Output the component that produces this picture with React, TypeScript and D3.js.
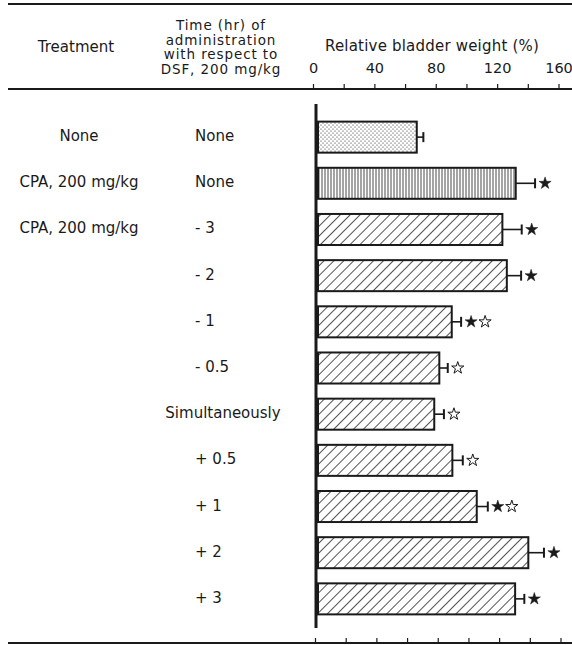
import React from "react";
import * as d3 from "d3";

const treatments = ["None", "CPA, 200 mg/kg", "CPA, 200 mg/kg", "", "", "", "", "", "", "", ""];
const times = ["None", "None", "- 3", "- 2", "- 1", "- 0.5", "Simultaneously", "+ 0.5", "+ 1", "+ 2", "+ 3"];
const means = [67.3, 131.8, 123.1, 126, 90.1, 82, 78.7, 90.5, 106.4, 140, 131.4];
const errors = [4.3, 12.6, 12.6, 9.3, 6.1, 5.5, 6.3, 6.8, 7.2, 10.2, 6];
const fills = ["dots", "vlines", "hatch", "hatch", "hatch", "hatch", "hatch", "hatch", "hatch", "hatch", "hatch"];
const marks = ["", "★", "★", "★", "★☆", "☆", "☆", "☆", "★☆", "★", "★"];
const tickValues = [0, 20, 40, 60, 80, 100, 120, 140, 160];
const tickLabels = [0, 40, 80, 120, 160];
const timeHeader = ["Time (hr) of", "administration", "with respect to", "DSF, 200 mg/kg"];

const FONT = "'DejaVu Sans', 'Liberation Sans', Arial, sans-serif";
const INK = "#1a1a1a";

export default function App() {
  const W = 572, H = 645;
  const x = d3.scaleLinear().domain([0, 160]).range([313.5, 559]);
  const y = d3.scaleBand<number>().domain(d3.range(means.length)).range([117, 619]).paddingInner(0.328).paddingOuter(0.1);
  const bh = y.bandwidth();
  const barLeft = 318;
  const star = d3.symbol().type(d3.symbolStar).size(46);

  return (
    <svg width={W} height={H} style={{ position: "absolute", left: 0, top: 0 }} fontFamily={FONT}>
      <defs>
        <pattern id="dots" width="4" height="4" patternUnits="userSpaceOnUse">
          <rect width="4" height="4" fill="#fff" />
          <circle cx="1" cy="1" r="0.6" fill={INK} />
          <circle cx="3" cy="3" r="0.6" fill={INK} />
        </pattern>
        <pattern id="vlines" width="3" height="4" patternUnits="userSpaceOnUse">
          <rect width="3" height="4" fill="#fff" />
          <line x1="1" y1="0" x2="1" y2="4" stroke={INK} strokeWidth="0.8" />
        </pattern>
        <pattern id="hatch" width="7" height="7" patternUnits="userSpaceOnUse" patternTransform="rotate(45)">
          <rect width="7" height="7" fill="#fff" />
          <line x1="0" y1="0" x2="0" y2="7" stroke={INK} strokeWidth="1.5" />
        </pattern>
      </defs>
      <rect width={W} height={H} fill="#fff" />

      {/* rules */}
      <line x1={8} x2={572} y1={4} y2={4} stroke={INK} strokeWidth={2} />
      <line x1={8} x2={572} y1={89} y2={89} stroke={INK} strokeWidth={2} />
      <line x1={8} x2={572} y1={643} y2={643} stroke={INK} strokeWidth={2} />

      {/* headers */}
      <g fill={INK} textAnchor="middle">
        <text x={76} y={52} fontSize={15}>Treatment</text>
        {timeHeader.map((t, i) => (
          <text key={t} x={221} y={30 + i * 14.5} fontSize={13.5} letterSpacing={0.9}>{t}</text>
        ))}
        <text x={432} y={51} fontSize={15} letterSpacing={0.2}>Relative bladder weight (%)</text>
        {tickLabels.map((t) => (
          <text key={t} x={x(t)} y={73} fontSize={14.5}>{t}</text>
        ))}
      </g>

      {/* top and bottom ticks */}
      {tickValues.map((t) => (
        <g key={t}>
          <line x1={x(t)} x2={x(t)} y1={89} y2={84} stroke={INK} strokeWidth={1.2} />
          <line x1={x(t) + 2} x2={x(t) + 2} y1={643} y2={638} stroke={INK} strokeWidth={1.2} />
        </g>
      ))}

      {/* vertical axis */}
      <line x1={316} x2={316} y1={104} y2={628} stroke={INK} strokeWidth={3} />

      {/* rows */}
      {means.map((m, i) => {
        const y0 = y(i)!;
        const cy = y0 + bh / 2;
        const xe = x(m + errors[i]);
        const xm = x(m);
        const ms = marks[i].split("");
        const long = times[i].length > 8;
        return (
          <g key={i}>
            {treatments[i] && (
              <text x={79} y={cy + 4} fontSize={15} fill={INK} textAnchor="middle">{treatments[i]}</text>
            )}
            <text x={long ? 223 : 195} y={cy + 4} fontSize={15} fill={INK} textAnchor={long ? "middle" : "start"}>
              {times[i]}
            </text>
            <rect x={barLeft} y={y0} width={xm - barLeft} height={bh} fill={`url(#${fills[i]})`} stroke={INK} strokeWidth={2} />
            <line x1={xm} x2={xe} y1={cy} y2={cy} stroke={INK} strokeWidth={1.6} />
            <line x1={xe} x2={xe} y1={cy - 5} y2={cy + 5} stroke={INK} strokeWidth={2} />
            {ms.map((s, j) => (
              <path
                key={j}
                d={star()!}
                transform={`translate(${xe + 10 + j * 14},${cy})`}
                fill={s === "★" ? INK : "#fff"}
                stroke={INK}
                strokeWidth={s === "★" ? 0.5 : 1}
              />
            ))}
          </g>
        );
      })}
    </svg>
  );
}
